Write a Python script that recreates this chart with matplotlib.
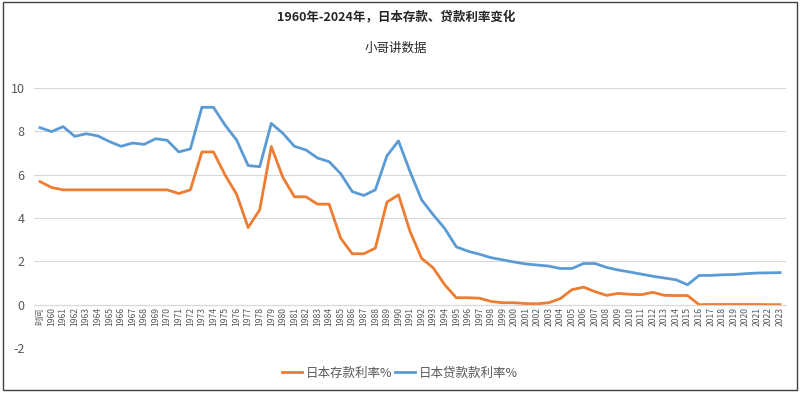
import matplotlib
matplotlib.use('Agg')
import matplotlib.pyplot as plt
from matplotlib.patches import Rectangle

plt.rcParams['font.family'] = ['Noto Sans CJK SC', 'DejaVu Sans']
plt.rcParams['axes.unicode_minus'] = False

# category labels: first one is the header cell "时间", then the years
categories = ['时间'] + [str(y) for y in range(1960, 2024)]

deposit_rate = [5.68, 5.41, 5.30, 5.30, 5.30, 5.30, 5.30, 5.30, 5.30, 5.30,
                5.30, 5.30, 5.13, 5.30, 7.05, 7.05, 5.99, 5.10, 3.56, 4.38,
                7.30, 5.88, 4.98, 4.98, 4.64, 4.64, 3.07, 2.35, 2.35, 2.61,
                4.73, 5.07, 3.38, 2.14, 1.70, 0.92, 0.32, 0.32, 0.30, 0.15,
                0.09, 0.09, 0.05, 0.04, 0.09, 0.28, 0.69, 0.81, 0.60, 0.43,
                0.52, 0.48, 0.46, 0.57, 0.43, 0.42, 0.42, 0.00, 0.01, 0.01,
                0.01, 0.01, 0.01, 0.00, 0.00]

loan_rate = [8.17, 7.99, 8.22, 7.77, 7.89, 7.79, 7.53, 7.31, 7.46, 7.40,
             7.66, 7.59, 7.05, 7.19, 9.11, 9.11, 8.29, 7.60, 6.42, 6.37,
             8.37, 7.91, 7.31, 7.14, 6.77, 6.60, 6.05, 5.22, 5.04, 5.30,
             6.87, 7.56, 6.14, 4.84, 4.15, 3.52, 2.67, 2.47, 2.33, 2.17,
             2.07, 1.97, 1.88, 1.83, 1.78, 1.67, 1.67, 1.90, 1.90, 1.72,
             1.60, 1.51, 1.41, 1.31, 1.23, 1.15, 0.92, 1.35, 1.35, 1.38,
             1.39, 1.43, 1.46, 1.47, 1.48]

series_names = ['日本存款利率%', '日本贷款款利率%']
title = '1960年-2024年，日本存款、贷款利率变化'
subtitle = '小哥讲数据'

ORANGE = '#ED7D31'
BLUE = '#5B9BD5'
GRID = '#D9D9D9'
TEXT = '#595959'

fig = plt.figure(figsize=(8.0, 3.93), dpi=100)
ax = fig.add_axes([0.0428, 0.1145, 0.9395, 0.6615])

x = list(range(len(categories)))
ax.plot(x, deposit_rate, color=ORANGE, lw=2, label=series_names[0], solid_joinstyle='round')
ax.plot(x, loan_rate, color=BLUE, lw=2, label=series_names[1], solid_joinstyle='round')

ax.set_xlim(-0.5, len(categories) - 0.5)
ax.set_ylim(-2, 10)
ax.set_yticks([-2, 0, 2, 4, 6, 8, 10])
ax.yaxis.grid(True, color=GRID, lw=0.8)
ax.set_axisbelow(True)

for side in ['top', 'right', 'left']:
    ax.spines[side].set_visible(False)
ax.spines['bottom'].set_position(('data', 0))
ax.spines['bottom'].set_color(GRID)
ax.spines['bottom'].set_linewidth(0.8)

ax.set_xticks(x)
ax.set_xticklabels(categories, rotation=90, fontsize=6.2, color=TEXT)
ax.tick_params(axis='x', length=0, pad=2)
ax.tick_params(axis='y', length=0, pad=7, labelsize=9, labelcolor=TEXT)

fig.text(0.495, 1 - 17 / 393, title, ha='center', va='center', fontsize=9, fontweight='bold', color='#262626')
fig.text(0.495, 1 - 48 / 393, subtitle, ha='center', va='center', fontsize=9, color='#262626')

fig.legend(loc='center', bbox_to_anchor=(0.5, 1 - 373 / 393), ncol=2, frameon=False,
           fontsize=9, labelcolor=TEXT, handlelength=1.6, handletextpad=0.3, columnspacing=0.2)

fig.patches.append(Rectangle((0.004, 0.008), 0.992, 0.986, transform=fig.transFigure,
                             fill=False, edgecolor='#404040', lw=1))

fig.savefig('out.png', dpi=100)
